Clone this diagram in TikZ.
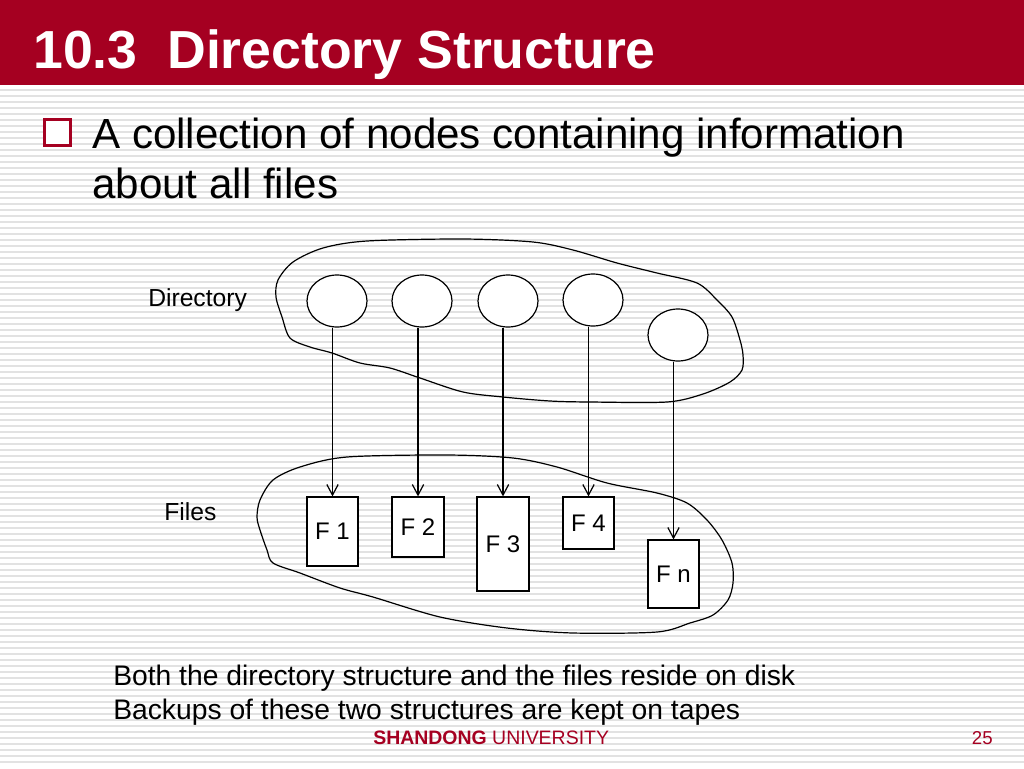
\documentclass[tikz,border=0pt]{standalone}
\usepackage{fontspec}
\setmainfont{Liberation Sans}
\usetikzlibrary{shapes.geometric,arrows.meta}
\definecolor{sdred}{HTML}{A50021}
\definecolor{stripegray}{HTML}{E2E2E2}
\tikzset{
  stripe/.style={stripegray, line width=1.1pt},
  dirnode/.style={ellipse, draw=black, fill=white, line width=0.9pt, minimum width=45pt, minimum height=39pt, inner sep=0pt},
  filebox/.style={rectangle, draw=black, fill=white, line width=0.9pt, inner sep=0pt, font=\fontsize{18}{21}\selectfont},
  blob/.style={draw=black, line width=0.9pt},
  arr/.style={draw=black, line width=0.9pt, -{Straight Barb[length=8pt,width=8.5pt,line width=0.9pt]}},
  lbl/.style={anchor=base west, inner sep=0pt, font=\fontsize{18.5}{22}\selectfont},
  bodytext/.style={anchor=base west, inner sep=0pt, font=\fontsize{21.2}{25}\selectfont},
  bullettext/.style={anchor=base west, inner sep=0pt, font=\fontsize{31.6}{38}\selectfont},
}
\begin{document}
\begin{tikzpicture}[x=0.75pt,y=-0.75pt]
\useasboundingbox (0,0) rectangle (1024,768);
\fill[white] (0,0) rectangle (1024,768);
\foreach \yy in {90,96,...,766} \draw[stripe] (0,\yy) -- (1024,\yy);
\fill[sdred] (0,0) rectangle (1024,85);
% title
\node[anchor=base west, inner sep=0pt, text=white, font=\bfseries\fontsize{40.2}{48}\selectfont] (title) at (33,68) {10.3\ \ Directory Structure};
% bullet
\node[draw=sdred, fill=white, line width=2.2pt, minimum size=19.5pt, inner sep=0pt] (bullet) at (57.5,132.5) {};
\node[bullettext] (line1) at (92,148) {A collection of nodes containing information};
\node[bullettext] (line2) at (92,198) {about all files};
% blobs
\draw[blob] plot[smooth cycle, tension=0.5] coordinates {
 (276,297) (278,280) (293,262) (323,248) (367,241) (463,239) (533,242) (573,250)
 (617,263) (657,273) (697,283) (717,300) (732,317) (740,340) (743,355) (742,370)
 (730,382) (703,394) (667,402) (590,402) (550,401) (503,397) (463,392) (420,378)
 (390,368) (360,363) (332,353) (310,347) (290,338) (282,317)};
\draw[blob] plot[smooth cycle, tension=0.5] coordinates {
 (257,517) (260,500) (273,480) (300,467) (347,457) (447,455) (513,458) (557,467)
 (607,483) (657,493) (687,503) (707,520) (722,540) (732,563) (733,583) (728,600)
 (713,615) (690,623) (657,632) (573,633) (507,628) (440,617) (373,597) (340,588)
 (300,573) (273,563) (267,550) (260,530)};
% labels
\node[lbl] (dirlabel) at (148,306) {Directory};
\node[lbl] (fileslabel) at (164,520) {Files};
% directory entries
\node[dirnode] (c1) at (337,301) {};
\node[dirnode] (c2) at (422,301) {};
\node[dirnode] (c3) at (508,301) {};
\node[dirnode] (c4) at (593,300) {};
\node[dirnode] (c5) at (678,335) {};
% files
\node[filebox, minimum width=38.25pt, minimum height=51.75pt] (f1) at (332.5,531.5) {F 1};
\node[filebox, minimum width=39pt, minimum height=45pt] (f2) at (418,527) {F 2};
\node[filebox, minimum width=39pt, minimum height=70.5pt] (f3) at (503,544) {F 3};
\node[filebox, minimum width=38.25pt, minimum height=39pt] (f4) at (588.5,523) {F 4};
\node[filebox, minimum width=38.25pt, minimum height=51pt] (fn) at (673.5,574) {F n};
% arrows
\draw[arr] (f1.north |- c1.south) -- (f1.north);
\draw[arr] (f2.north |- c2.south) -- (f2.north);
\draw[arr] (f3.north |- c3.south) -- (f3.north);
\draw[arr] (f4.north |- c4.south) -- (f4.north);
\draw[arr] (fn.north |- c5.south) -- (fn.north);
% bottom text
\node[bodytext] (note1) at (113,685) {Both the directory structure and the files reside on disk};
\node[bodytext] (note2) at (113,719) {Backups of these two structures are kept on tapes};
% footer
\node[anchor=base west, inner sep=0pt, text=sdred, font=\fontsize{14.6}{17}\selectfont] (footer) at (373,744) {\textbf{SHANDONG} UNIVERSITY};
\node[anchor=base east, inner sep=0pt, text=sdred, font=\fontsize{14}{17}\selectfont] (page) at (993,744) {25};
\end{tikzpicture}
\end{document}
